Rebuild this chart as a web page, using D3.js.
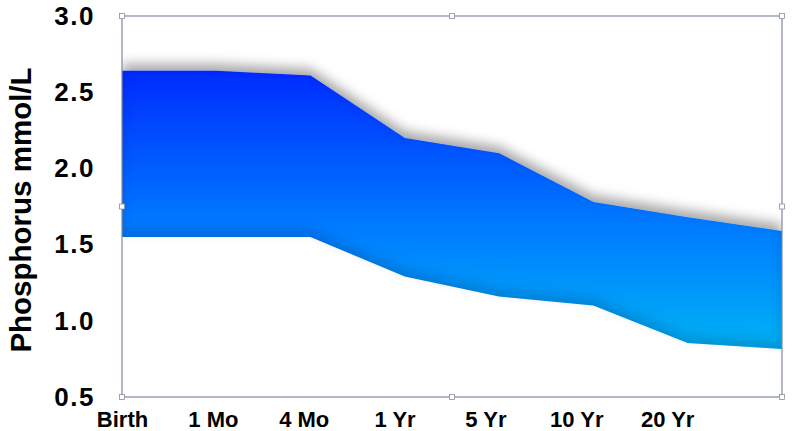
<!DOCTYPE html>
<html>
<head>
<meta charset="utf-8">
<script src="https://cdn.jsdelivr.net/npm/d3@7"></script>
<style>
  body { margin: 0; background: #fff; }
  svg { display: block; font-family: "Liberation Sans", Arial, sans-serif; }
</style>
</head>
<body>
<div id="chart"></div>
<script>
// age points (last one is the unlabeled right edge of the band)
const ages = ["Birth", "1 Mo", "4 Mo", "1 Yr", "5 Yr", "10 Yr", "20 Yr", ""];
const upperLimit = [2.64, 2.64, 2.61, 2.20, 2.10, 1.78, 1.68, 1.59];
const lowerLimit = [1.55, 1.55, 1.55, 1.29, 1.16, 1.10, 0.855, 0.815];
const yTicks = [0.5, 1.0, 1.5, 2.0, 2.5, 3.0];

const W = 800, H = 431;
const plot = { left: 122, right: 782, top: 16, bottom: 397 };

const svg = d3.select("#chart").append("svg")
  .attr("width", W)
  .attr("height", H);

const x = d3.scalePoint()
  .domain(d3.range(ages.length))
  .range([plot.left, plot.right]);

// tick labels sit a little tighter than the data points in the original
const xLab = d3.scalePoint()
  .domain(d3.range(ages.length))
  .range([plot.left, 758]);

const y = d3.scaleLinear()
  .domain([0.5, 3.0])
  .range([plot.bottom, plot.top]);

const data = ages.map((a, i) => ({ i: i, hi: upperLimit[i], lo: lowerLimit[i] }));

const defs = svg.append("defs");

const grad = defs.append("linearGradient")
  .attr("id", "bandGrad")
  .attr("gradientUnits", "userSpaceOnUse")
  .attr("x1", 0).attr("x2", 0)
  .attr("y1", y(d3.max(upperLimit)))
  .attr("y2", y(d3.min(lowerLimit)));
grad.append("stop").attr("offset", "0%").attr("stop-color", "#002cff");
grad.append("stop").attr("offset", "60%").attr("stop-color", "#0480ff");
grad.append("stop").attr("offset", "100%").attr("stop-color", "#00b2f4");

defs.append("clipPath").attr("id", "plotClip")
  .append("rect")
  .attr("x", plot.left).attr("y", plot.top)
  .attr("width", plot.right - plot.left)
  .attr("height", plot.bottom - plot.top);

// upward soft shadow + darker inner edge along the bottom
const f = defs.append("filter").attr("id", "shade")
  .attr("x", "-5%").attr("y", "-20%").attr("width", "110%").attr("height", "140%");
f.append("feGaussianBlur").attr("in", "SourceAlpha").attr("stdDeviation", 6).attr("result", "blur");
f.append("feOffset").attr("in", "blur").attr("dy", -7).attr("result", "upBlur");
f.append("feFlood").attr("flood-color", "#000").attr("flood-opacity", 0.34).attr("result", "grey");
f.append("feComposite").attr("in", "grey").attr("in2", "upBlur").attr("operator", "in").attr("result", "drop");
f.append("feComposite").attr("in", "SourceAlpha").attr("in2", "upBlur").attr("operator", "out").attr("result", "innerMask");
f.append("feFlood").attr("flood-color", "#002070").attr("flood-opacity", 0.35).attr("result", "dark");
f.append("feComposite").attr("in", "dark").attr("in2", "innerMask").attr("operator", "in").attr("result", "inner");
const merge = f.append("feMerge");
merge.append("feMergeNode").attr("in", "drop");
merge.append("feMergeNode").attr("in", "SourceGraphic");
merge.append("feMergeNode").attr("in", "inner");

const area = d3.area()
  .x(d => x(d.i))
  .y0(d => y(d.lo))
  .y1(d => y(d.hi));

svg.append("g")
  .attr("clip-path", "url(#plotClip)")
  .append("path")
  .datum(data)
  .attr("d", area)
  .attr("fill", "url(#bandGrad)")
  .attr("filter", "url(#shade)");

// plot frame with selection handles
svg.append("rect")
  .attr("x", plot.left).attr("y", plot.top)
  .attr("width", plot.right - plot.left)
  .attr("height", plot.bottom - plot.top)
  .attr("fill", "none")
  .attr("stroke", "#7f899e")
  .attr("stroke-width", 1.2);

const midX = (plot.left + plot.right) / 2, midY = (plot.top + plot.bottom) / 2;
const handles = [
  [plot.left, plot.top], [midX, plot.top], [plot.right, plot.top],
  [plot.left, midY], [plot.right, midY],
  [plot.left, plot.bottom], [midX, plot.bottom], [plot.right, plot.bottom]
];
svg.selectAll("rect.handle")
  .data(handles)
  .enter()
  .append("rect")
    .attr("class", "handle")
    .attr("x", d => d[0] - 2.5)
    .attr("y", d => d[1] - 2.5)
    .attr("width", 5).attr("height", 5)
    .attr("fill", "#fff")
    .attr("stroke", "#8a8f99")
    .attr("stroke-width", 0.8);

// y axis (labels only)
const yAxis = svg.append("g")
  .attr("transform", "translate(" + plot.left + ",0)")
  .call(d3.axisLeft(y).tickValues(yTicks).tickFormat(d3.format(".1f")).tickSize(0).tickPadding(27));
yAxis.select(".domain").remove();
yAxis.selectAll("text")
  .attr("fill", "#000")
  .style("font-size", "26px")
  .style("font-weight", "bold")
  .style("letter-spacing", "1.5px");

// x axis (labels only)
const xAxis = svg.append("g")
  .attr("transform", "translate(0," + plot.bottom + ")")
  .call(d3.axisBottom(xLab).tickFormat(i => ages[i]).tickSize(0).tickPadding(14));
xAxis.select(".domain").remove();
xAxis.selectAll("text")
  .attr("fill", "#000")
  .style("font-size", "22px")
  .style("font-weight", "bold");

// y title
svg.append("text")
  .attr("transform", "translate(31," + 210 + ") rotate(-90)")
  .attr("text-anchor", "middle")
  .style("font-size", "29.5px")
  .style("font-weight", "bold")
  .text("Phosphorus mmol/L");
</script>
</body>
</html>
